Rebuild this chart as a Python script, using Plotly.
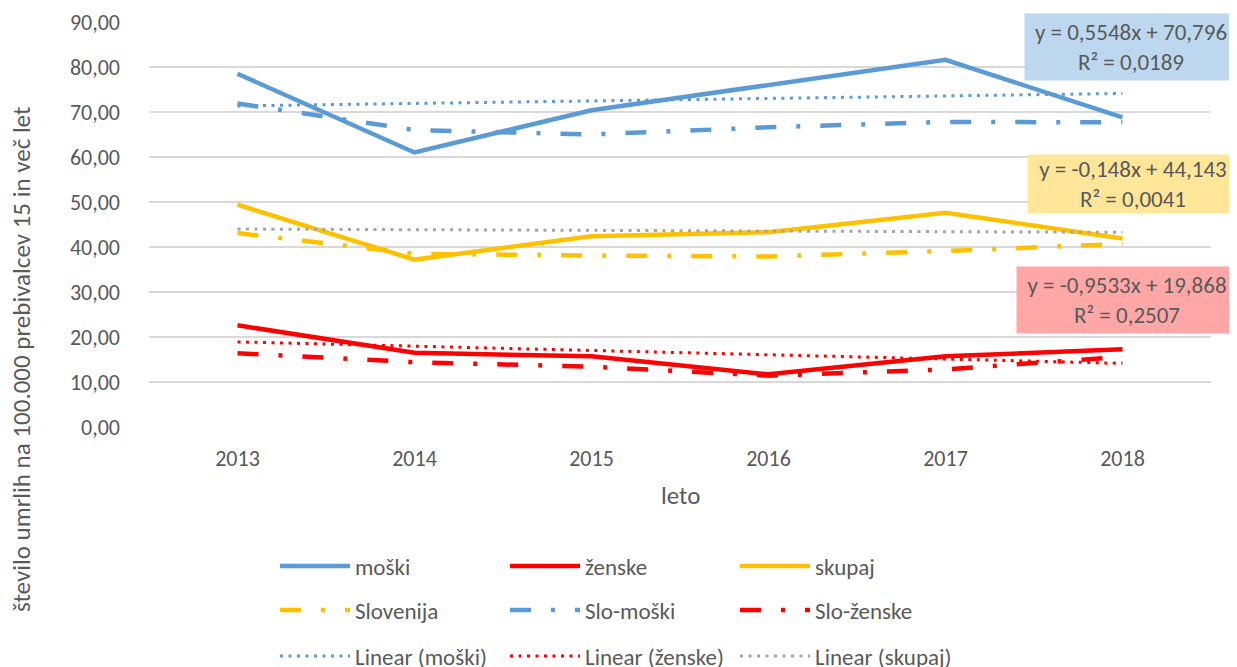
import plotly.graph_objects as go

# ---------------- data ----------------
years = ["2013", "2014", "2015", "2016", "2017", "2018"]
moski = [78.5, 61.0, 70.4, 76.0, 81.6, 68.8]
zenske = [22.6, 16.5, 15.7, 11.7, 15.7, 17.3]
skupaj = [49.4, 37.2, 42.4, 43.3, 47.6, 41.9]
slovenija = [43.1, 38.5, 38.1, 37.9, 39.1, 40.7]
slo_moski = [71.9, 66.0, 65.0, 66.6, 67.8, 67.7]
slo_zenske = [16.4, 14.4, 13.4, 11.4, 12.8, 15.6]

# trendline coefficients (from the equation labels)
trend_moski = (0.5548, 70.796)
trend_zenske = (-0.9533, 19.868)
trend_skupaj = (-0.148, 44.143)

eq_moski = "y = 0,5548x + 70,796<br>R² = 0,0189"
eq_skupaj = "y = -0,148x + 44,143<br>R² = 0,0041"
eq_zenske = "y = -0,9533x + 19,868<br>R² = 0,2507"

BLUE = "#5B9BD5"
RED = "#FF0000"
YELLOW = "#FFC000"
GRAY = "#A5A5A5"
TXT = "#595959"
FONT = "Calibri, Carlito, Lato, sans-serif"

# page is offset by the body margin (8px); work in page pixels
OFF = 8
W, H = 1237, 667
L = 149 - OFF
T = 22 - OFF
R = W - (1211 - OFF)
B = H - (427 - OFF)
PW = W - L - R
PH = H - T - B


def px_x(p):  # page pixel -> paper x
    return (p - OFF - L) / PW


def px_y(p):  # page pixel -> paper y
    return (H - B - (p - OFF)) / PH


def trend(coef):
    a, b = coef
    return [a * (i + 1) + b for i in range(len(years))]


DASHDOT = "21px,20px,4px,20px"
DOT = "3px,5.5px"

fig = go.Figure()

main = [("moški", moski, BLUE), ("ženske", zenske, RED), ("skupaj", skupaj, YELLOW)]
for name, vals, col in main:
    fig.add_trace(go.Scatter(x=years, y=vals, name=name, mode="lines",
                             line=dict(color=col, width=4.5), legend="legend"))

slo = [("Slovenija", slovenija, YELLOW), ("Slo-moški", slo_moski, BLUE),
       ("Slo-ženske", slo_zenske, RED)]
for name, vals, col in slo:
    fig.add_trace(go.Scatter(x=years, y=vals, name=name, mode="lines",
                             line=dict(color=col, width=4.5, dash=DASHDOT),
                             legend="legend2"))

trends = [("Linear (moški)", trend(trend_moski), BLUE),
          ("Linear (ženske)", trend(trend_zenske), RED),
          ("Linear (skupaj)", trend(trend_skupaj), GRAY)]
for name, vals, col in trends:
    fig.add_trace(go.Scatter(x=years, y=vals, name=name, mode="lines",
                             line=dict(color=col, width=3, dash=DOT),
                             legend="legend3"))

leg_common = dict(orientation="h", xanchor="left", yanchor="middle",
                  bgcolor="rgba(0,0,0,0)", borderwidth=0,
                  font=dict(family=FONT, size=23, color=TXT),
                  itemwidth=70, entrywidth=145, entrywidthmode="pixels",
                  traceorder="normal")
legend_x = px_x(275)

annotations = [
    dict(text="leto", xref="paper", yref="paper", x=px_x(680), y=px_y(495),
         showarrow=False, font=dict(family=FONT, size=25, color=TXT),
         xanchor="center", yanchor="middle"),
    dict(text="število umrlih na 100.000 prebivalcev 15 in več let",
         xref="paper", yref="paper", x=px_x(21), y=px_y(360), textangle=-90,
         showarrow=False, font=dict(family=FONT, size=25, color=TXT),
         xanchor="center", yanchor="middle"),
]
# (text, fill, text centre x, centre y, full box width, full box height)
boxes = [(eq_moski, "#BDD7EE", 1131, 47, 212, 66),
         (eq_skupaj, "#FFE699", 1133, 184, 210, 58),
         (eq_zenske, "#FFA7A7", 1127, 300, 220, 66)]
for txt, bg, cx, cy, bw, bh in boxes:
    annotations.append(dict(text=txt, xref="paper", yref="paper",
                            x=px_x(cx), y=px_y(cy), showarrow=False,
                            xanchor="center", yanchor="middle",
                            bgcolor=bg, borderpad=4, width=bw - 8, height=bh - 8,
                            align="center",
                            font=dict(family=FONT, size=23, color=TXT)))

fig.update_layout(
    width=W, height=H,
    margin=dict(l=L, r=R, t=T, b=B, autoexpand=False),
    paper_bgcolor="white", plot_bgcolor="white",
    separators=",.",
    font=dict(family=FONT, size=20, color=TXT),
    showlegend=True,
    legend=dict(leg_common, x=legend_x, y=px_y(566)),
    legend2=dict(leg_common, x=legend_x, y=px_y(610)),
    legend3=dict(leg_common, x=legend_x, y=px_y(656)),
    annotations=annotations,
    xaxis=dict(type="category", range=[-0.5, 5.5], showgrid=False,
               zeroline=False, showline=False, ticks="",
               tickfont=dict(family=FONT, size=22, color=TXT),
               ticklabelstandoff=16),
    yaxis=dict(range=[0, 90], dtick=10, tickformat=".2f", showgrid=True,
               gridcolor="#D9D9D9", gridwidth=1.5, zeroline=False,
               showline=False, ticks="",
               tickfont=dict(family=FONT, size=22, color=TXT),
               ticklabelstandoff=28),
)

fig.write_html("out.html")
